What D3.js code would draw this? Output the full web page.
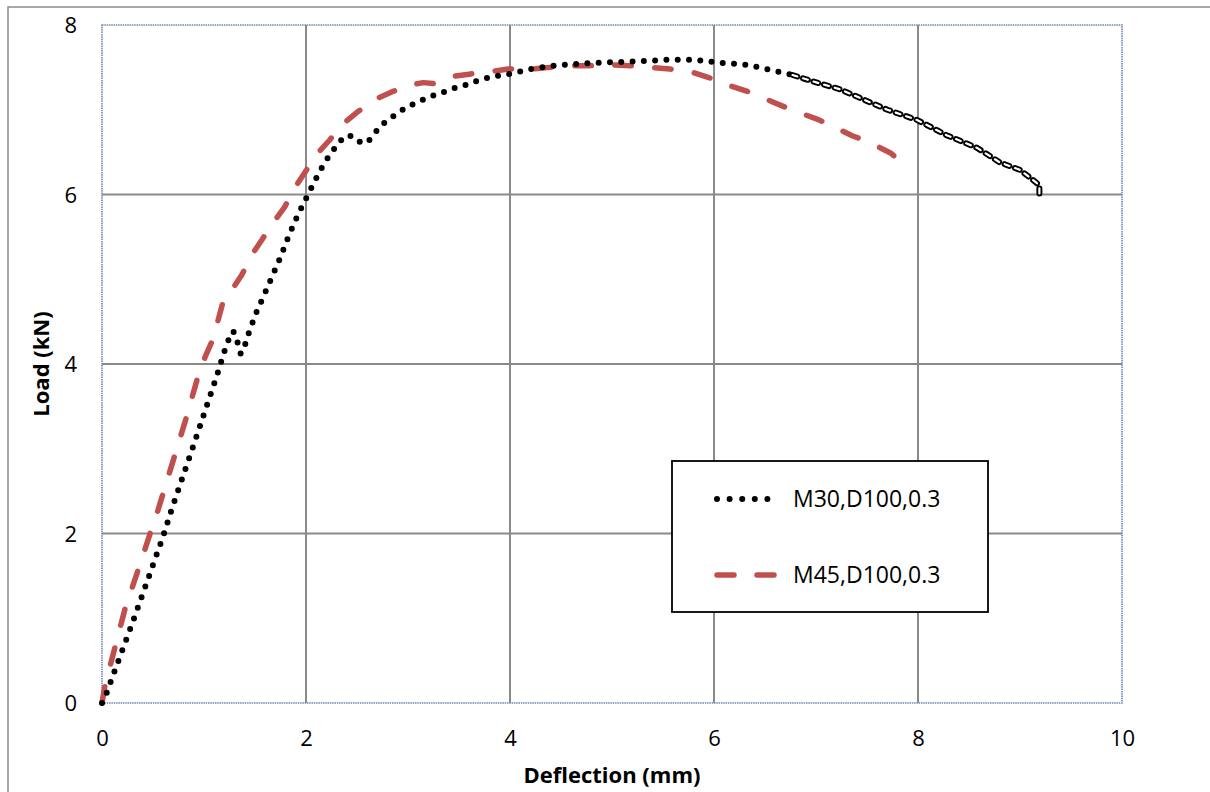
<!DOCTYPE html>
<html>
<head>
<meta charset="utf-8">
<script src="https://cdn.jsdelivr.net/npm/d3@7"></script>
<style>
  html, body { margin: 0; padding: 0; background: #fff; }
  svg { display: block; font-family: "Open Sans", "Noto Sans", sans-serif; }
</style>
</head>
<body>
<svg id="chart" width="1210" height="792"></svg>
<script>
// ---- data ----
const xTicks = [0, 2, 4, 6, 8, 10];
const yTicks = [0, 2, 4, 6, 8];
const seriesNames = ["M30,D100,0.3", "M45,D100,0.3"];

const m30Deflection = [0, 0.05, 0.1, 0.3, 0.6, 0.69, 0.9, 1.15, 1.19, 1.23, 1.26, 1.29, 1.33, 1.36, 1.41, 1.44, 1.48, 1.52, 1.57, 1.66, 1.75, 1.83, 1.92, 2.02, 2.07, 2.12, 2.18, 2.24, 2.31, 2.38, 2.46, 2.53, 2.6, 2.67, 2.74, 2.83, 2.92, 3.02, 3.13, 3.23, 3.33, 3.44, 3.54, 3.65, 3.76, 3.87, 3.98, 4.2, 4.42, 4.76, 4.99, 5.21, 5.55, 5.77, 5.88, 6.1, 6.33, 6.55, 6.77,
  7.01, 7.24, 7.43, 7.7, 7.99, 8.28, 8.58, 8.8, 9.0, 9.16, 9.19, 9.19];
const m30Load = [0, 0.13, 0.3, 0.95, 1.97, 2.31, 3.05, 3.95, 4.12, 4.24, 4.37, 4.38, 4.25, 4.12, 4.25, 4.37, 4.5, 4.63, 4.76, 5.01, 5.26, 5.51, 5.76, 6.0, 6.12, 6.24, 6.37, 6.48, 6.59, 6.69, 6.69, 6.62, 6.61, 6.72, 6.82, 6.9, 6.98, 7.05, 7.11, 7.16, 7.2, 7.25, 7.28, 7.33, 7.37, 7.4, 7.42, 7.48, 7.52, 7.55, 7.56, 7.57, 7.59, 7.59, 7.58, 7.55, 7.53, 7.47, 7.41,
  7.32, 7.24, 7.14, 7.0, 6.88, 6.7, 6.55, 6.38, 6.29, 6.14, 6.1, 6.0];
// index where the M30 record turns dense (drawn as a chain in the original)
const m30DenseFrom = 58;

const m45Deflection = [0, 0.03, 0.13, 0.23, 0.36, 0.48, 0.55, 0.83, 0.94, 1.01, 1.09, 1.19, 1.27, 1.37, 1.47, 1.57, 1.68, 1.79, 1.89, 2.0, 2.1, 2.23, 2.36, 2.5, 2.69, 2.84, 3.05, 3.15, 3.25, 3.42, 3.6, 3.81, 3.98, 4.2, 4.39, 4.6, 4.78, 4.99, 5.18, 5.38, 5.57, 5.77, 5.95, 6.14, 6.32, 6.52, 6.76, 7.01, 7.14, 7.36, 7.5, 7.73, 7.79, 7.8];
const m45Load = [0, 0.21, 0.67, 1.13, 1.59, 2.03, 2.28, 3.38, 3.85, 4.08, 4.3, 4.75, 4.87, 5.05, 5.29, 5.47, 5.67, 5.85, 6.08, 6.28, 6.47, 6.64, 6.83, 6.97, 7.13, 7.21, 7.3, 7.32, 7.31, 7.39, 7.42, 7.45, 7.48, 7.48, 7.5, 7.52, 7.52, 7.53, 7.52, 7.5, 7.48, 7.45, 7.38, 7.29, 7.22, 7.12, 7.0, 6.89, 6.82, 6.69, 6.63, 6.49, 6.43, 6.37];

// ---- layout ----
const svg = d3.select("#chart");
const plot = { left: 102, top: 25, right: 1122, bottom: 703 };
const x = d3.scaleLinear().domain([0, 10]).range([plot.left, plot.right]);
const y = d3.scaleLinear().domain([0, 8]).range([plot.bottom, plot.top]);

// outer chart border
svg.append("rect").attr("x", 8).attr("y", 7).attr("width", 1220).attr("height", 820)
  .attr("fill", "none").attr("stroke", "#8c8c8c").attr("stroke-width", 1.5);

// gridlines
const grid = svg.append("g");
grid.selectAll("line.gx").data(xTicks.filter(d => d > 0 && d < 10)).join("line")
  .attr("x1", d => x(d)).attr("x2", d => x(d)).attr("y1", plot.top).attr("y2", plot.bottom)
  .attr("stroke", "#8a8a8a").attr("stroke-width", 2);
grid.selectAll("line.gy").data(yTicks.filter(d => d > 0 && d < 8)).join("line")
  .attr("x1", plot.left).attr("x2", plot.right).attr("y1", d => y(d)).attr("y2", d => y(d))
  .attr("stroke", "#8a8a8a").attr("stroke-width", 2);

// plot border (dotted blue-grey)
svg.append("rect").attr("x", plot.left).attr("y", plot.top)
  .attr("width", plot.right - plot.left).attr("height", plot.bottom - plot.top)
  .attr("fill", "none").attr("stroke", "#7088ad").attr("stroke-width", 1.6)
  .attr("stroke-dasharray", "1.5,0.8");

// axes (labels only)
const xAxis = d3.axisBottom(x).tickValues(xTicks).tickSize(0).tickPadding(0).tickFormat(d3.format("d"));
const gx = svg.append("g").attr("transform", `translate(0,${plot.bottom})`).call(xAxis);
gx.select(".domain").remove();
gx.selectAll("text").attr("y", 35).attr("dy", "0.35em").attr("font-size", 22)
  .attr("font-family", "'Open Sans', sans-serif").attr("fill", "#000");

const yAxis = d3.axisLeft(y).tickValues(yTicks).tickSize(0).tickPadding(0).tickFormat(d3.format("d"));
const gy = svg.append("g").attr("transform", `translate(${plot.left},0)`).call(yAxis);
gy.select(".domain").remove();
gy.selectAll("text").attr("x", -25).attr("dy", "0.35em").attr("font-size", 22)
  .attr("font-family", "'Open Sans', sans-serif").attr("fill", "#000");

// axis titles
svg.append("text").attr("x", (plot.left + plot.right) / 2).attr("y", 775)
  .attr("text-anchor", "middle").attr("dy", "0.35em")
  .attr("font-size", 22).attr("font-weight", "bold").text("Deflection (mm)");
svg.append("text").attr("transform", `translate(41,${(plot.top + plot.bottom) / 2}) rotate(-90)`)
  .attr("text-anchor", "middle").attr("dy", "0.35em")
  .attr("font-size", 22).attr("font-weight", "bold").text("Load (kN)");

// series
const line = d3.line().x(d => x(d[0])).y(d => y(d[1]));
const m30 = m30Deflection.map((d, i) => [d, m30Load[i]]);
const m45 = m45Deflection.map((d, i) => [d, m45Load[i]]);

// M45 red dashed
svg.append("path").datum(m45).attr("d", line)
  .attr("fill", "none").attr("stroke", "#c0504d").attr("stroke-width", 5.5)
  .attr("stroke-linecap", "round").attr("stroke-linejoin", "round")
  .attr("stroke-dasharray", "16.5,23.5");

// M30 black round dots
svg.append("path").datum(m30.slice(0, m30DenseFrom + 1)).attr("d", line)
  .attr("fill", "none").attr("stroke", "#000").attr("stroke-width", 6)
  .attr("stroke-linecap", "round").attr("stroke-dasharray", "0,11.3");
// dense tail: chain of outlined links
const tail = m30.slice(m30DenseFrom);
svg.append("path").datum(tail).attr("d", line)
  .attr("fill", "none").attr("stroke", "#000").attr("stroke-width", 6)
  .attr("stroke-linecap", "round").attr("stroke-dasharray", "5,6");
svg.append("path").datum(tail).attr("d", line)
  .attr("fill", "none").attr("stroke", "#fff").attr("stroke-width", 2.2)
  .attr("stroke-linecap", "round").attr("stroke-dasharray", "5,6");

// legend
const lg = svg.append("g");
lg.append("rect").attr("x", 672).attr("y", 461).attr("width", 316).attr("height", 151)
  .attr("fill", "#fff").attr("stroke", "#000").attr("stroke-width", 1.8);
const rows = [
  { name: seriesNames[0], y: 499, stroke: "#000", dash: "0,12.6", w: 6 },
  { name: seriesNames[1], y: 575, stroke: "#c0504d", dash: "17,23", w: 5.5 }
];
rows.forEach(r => {
  lg.append("line").attr("x1", 717).attr("x2", 777)
    .attr("y1", r.y).attr("y2", r.y)
    .attr("stroke", r.stroke).attr("stroke-width", r.w).attr("stroke-linecap", "round")
    .attr("stroke-dasharray", r.dash);
  lg.append("text").attr("x", 793).attr("y", r.y).attr("dy", "0.35em")
    .attr("font-size", 23).attr("fill", "#000").text(r.name);
});
</script>
</body>
</html>
